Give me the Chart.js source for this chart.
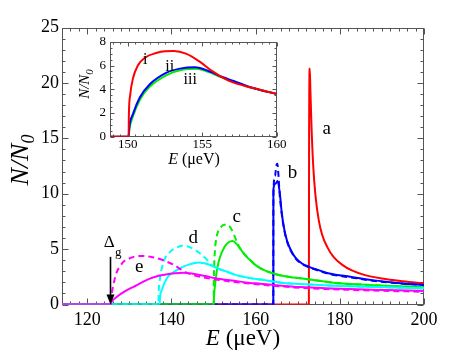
<!DOCTYPE html>
<html>
<head>
<meta charset="utf-8">
<script src="https://cdn.jsdelivr.net/npm/chart.js@4.4.1/dist/chart.umd.min.js"></script>
<style>
html,body{margin:0;padding:0;background:#ffffff;overflow:hidden;}
#wrap{position:relative;width:469px;height:352px;background:#fff;}
canvas{position:absolute;display:block;}
</style>
</head>
<body>
<div id="wrap">
<canvas id="main" width="469" height="352" style="left:0;top:0;"></canvas>
<canvas id="inset" width="240" height="140" style="left:70px;top:30px;"></canvas>
</div>
<script>
// ---------------- data ----------------
const xTickLabels = [120, 140, 160, 180, 200];
const yTickLabels = [0, 5, 10, 15, 20, 25];
const insetXTickLabels = [150, 155, 160];
const insetYTickLabels = [0, 2, 4, 6, 8];

// curve a (red, solid)
const aE = [114, 172.65, 172.7, 172.85, 173.0, 173.3, 173.7, 174.2, 175.0, 175.8, 177.0, 178.5, 180.5, 183, 186, 190, 195, 200];
const aN = [0, 0, 15, 21.3, 19.5, 15.8, 12.4, 9.9, 7.6, 6.3, 5.2, 4.3, 3.6, 3.05, 2.65, 2.35, 2.1, 1.9];

// curve b (blue)
const bE = [114, 164.2, 164.22, 164.7, 165.2, 165.7, 166.2, 166.8, 167.5, 168.5, 169.5, 171, 172.7, 175, 177.5, 182.5, 187.7, 193, 200];
const bN = [0, 0, 10.4, 10.9, 11.15, 10.2, 8.3, 6.8, 5.7, 4.8, 4.2, 3.7, 3.4, 3.1, 2.8, 2.5, 2.2, 1.97, 1.76];
const bDashE = [114, 164.2, 164.22, 164.6, 164.95, 165.15, 165.4, 165.7, 166.2, 166.8, 167.5, 168.5, 169.5, 171, 172.7, 175, 177.5, 182.5, 187.7, 193, 200];
const bDashN = [0, 0, 9.8, 11.6, 12.6, 12.7, 11.8, 10.0, 8.2, 6.7, 5.65, 4.75, 4.15, 3.65, 3.35, 3.05, 2.75, 2.45, 2.15, 1.95, 1.74];

// curve c (green)
const cE = [114, 150.05, 150.1, 150.34, 150.8, 151.46, 152.6, 153.5, 154.5, 155.5, 156.5, 157.9, 159, 160, 162, 164.2, 167, 170.6, 175, 178.5, 185, 190.4, 200];
const cN = [0, 0, 0.6, 1.7, 3.1, 4.2, 5.2, 5.6, 5.72, 5.45, 4.95, 4.3, 3.9, 3.55, 3.1, 2.8, 2.55, 2.36, 2.15, 1.97, 1.8, 1.7, 1.55];
const cDashE = [114, 150.05, 150.07, 150.16, 150.34, 150.67, 151.2, 151.9, 152.5, 153.1, 153.9, 154.8, 155.7, 156.5, 157.9, 159, 160, 162, 164.2, 167, 170.6, 175, 178.5, 185, 190.4, 200];
const cDashN = [0, 0, 1.9, 3.55, 4.9, 6.0, 6.7, 7.05, 7.2, 7.2, 7.0, 6.35, 5.5, 4.95, 4.3, 3.9, 3.55, 3.1, 2.8, 2.55, 2.36, 2.15, 1.97, 1.8, 1.7, 1.55];

// curve d (cyan)
const dE = [114, 137.2, 137.3, 137.7, 138.9, 140, 141.3, 142.7, 144.1, 145.3, 146.4, 147.8, 149.2, 151, 153.2, 155, 157.1, 158.7, 161.1, 166.6, 172, 178.5, 189, 200];
const dN = [0, 0, 0.7, 1.3, 2.36, 2.8, 3.1, 3.4, 3.6, 3.72, 3.8, 3.72, 3.56, 3.25, 2.96, 2.7, 2.5, 2.38, 2.25, 1.95, 1.82, 1.7, 1.57, 1.46];
const dDashE = [114, 136.9, 136.95, 137.3, 137.8, 138.5, 139.3, 140.1, 141.3, 142.5, 143.5, 144.5, 145.7, 146.8, 148.4, 149.4, 151, 153.2, 155, 157.1, 158.7, 161.1, 166.6, 172, 178.5, 189, 200];
const dDashN = [0, 0, 0.86, 2.4, 3.4, 4.2, 4.6, 4.9, 5.15, 5.3, 5.27, 5.15, 4.9, 4.6, 4.05, 3.62, 3.25, 2.96, 2.7, 2.5, 2.38, 2.25, 1.95, 1.82, 1.7, 1.57, 1.46];

// curve e (magenta)
const eE = [114, 125.5, 125.8, 127.05, 129, 131.0, 133, 135.0, 137, 138.9, 140.9, 142.9, 144.8, 146.8, 149.2, 151.6, 154.3, 158.7, 161.1, 165.5, 170.6, 178, 188, 200];
const eN = [0, 0, 0.25, 0.7, 1.2, 1.6, 2.0, 2.36, 2.6, 2.72, 2.83, 2.87, 2.8, 2.66, 2.47, 2.3, 2.17, 1.95, 1.88, 1.72, 1.57, 1.45, 1.33, 1.22];
const eDashE = [114, 125.5, 125.7, 125.9, 126.4, 127.05, 127.8, 128.6, 129.7, 131.0, 132.2, 133.4, 135.0, 136.6, 138.9, 140.5, 142.1, 143.6, 145.2, 147.2, 149.2, 151.6, 154.7, 158.7, 161.1, 165.5, 170.6, 178, 188, 200];
const eDashN = [0, 0, 0.6, 1.16, 2.1, 2.96, 3.45, 3.86, 4.1, 4.3, 4.37, 4.38, 4.3, 4.17, 3.86, 3.6, 3.2, 2.88, 2.65, 2.47, 2.33, 2.2, 2.04, 1.88, 1.8, 1.65, 1.5, 1.38, 1.26, 1.15];

// inset curves i (red), ii (blue), iii (green)
const insetIE = [148.8, 150.05, 150.07, 150.16, 150.34, 150.67, 151.2, 151.9, 152.5, 153.1, 153.9, 154.8, 155.7, 156.8, 158.4, 160];
const insetIN = [0, 0, 1.9, 3.55, 4.9, 6.0, 6.7, 7.05, 7.2, 7.22, 7.0, 6.35, 5.5, 4.7, 4.1, 3.6];
const insetIIE = [148.8, 150.05, 150.1, 150.34, 150.8, 151.46, 152.6, 153.5, 154.5, 155.5, 156.3, 157.1, 158.4, 160];
const insetIIN = [0, 0, 0.83, 1.9, 3.3, 4.4, 5.4, 5.74, 5.85, 5.5, 5.05, 4.7, 4.1, 3.6];
const insetIIIE = [148.8, 150.05, 150.1, 150.34, 150.8, 151.46, 152.6, 153.5, 154.6, 155.5, 156.3, 157.1, 158.4, 160];
const insetIIIN = [0, 0, 0.6, 1.7, 3.1, 4.2, 5.2, 5.6, 5.72, 5.42, 5.0, 4.68, 4.1, 3.6];

// ---------------- annotations (positions in data units) ----------------
const curveLabels = [
  {t: 'a', e: 176.9, n: 15.39},
  {t: 'b', e: 168.76, n: 11.39},
  {t: 'c', e: 155.5, n: 7.47},
  {t: 'd', e: 145.2, n: 5.52},
  {t: 'e', e: 132.34, n: 2.91}
];
const gapLabel = {e: 125.21, n: 5.16, subE: 127.38, subN: 4.38};
const gapArrow = {e: 125.46, top: 4.3};
const insetLabels = [
  {t: 'i', e: 151.16, n: 6.16},
  {t: 'ii', e: 152.81, n: 5.54},
  {t: 'iii', e: 154.19, n: 4.44}
];

// ---------------- helpers ----------------
const SERIF = '"Liberation Serif", serif';
Chart.defaults.font.family = SERIF;
Chart.defaults.color = '#000';

function series(xs, ys) { return xs.map((e, i) => ({x: e, y: ys[i]})); }
function line(xs, ys, color, dashed) {
  return {
    data: series(xs, ys), borderColor: color, borderWidth: 2,
    borderDash: dashed ? [6, 4] : [], pointRadius: 0, pointHoverRadius: 0,
    fill: false, cubicInterpolationMode: 'monotone', borderJoinStyle: 'round'
  };
}
function near(list, v) { return list.some(t => Math.abs(t - v) < 1e-6); }

function framePlugin(id, o) {
  return {
    id,
    beforeDatasetsDraw(chart) {
      const {ctx, chartArea: a, scales: {x, y}} = chart;
      const L = Math.round(a.left) + 0.5, R = Math.round(a.right) - 0.5;
      const T = Math.round(a.top) + 0.5, B = Math.round(a.bottom) - 0.5;
      ctx.save();
      ctx.strokeStyle = o.color; ctx.lineWidth = 1;
      ctx.strokeRect(L, T, R - L, B - T);
      ctx.beginPath();
      for (let k = Math.ceil(x.min / o.xStep - 1e-9); k * o.xStep <= x.max + 1e-9; k++) {
        const v = k * o.xStep, len = near(o.xMajor, v) ? o.major : o.minor;
        const p = Math.round(x.getPixelForValue(v)) + 0.5;
        ctx.moveTo(p, B); ctx.lineTo(p, B - len);
        ctx.moveTo(p, T); ctx.lineTo(p, T + len);
      }
      for (let k = Math.ceil(y.min / o.yStep - 1e-9); k * o.yStep <= y.max + 1e-9; k++) {
        const v = k * o.yStep, len = near(o.yMajor, v) ? o.major : o.minor;
        const p = Math.round(y.getPixelForValue(v)) + 0.5;
        ctx.moveTo(L, p); ctx.lineTo(L + len, p);
        ctx.moveTo(R, p); ctx.lineTo(R - len, p);
      }
      ctx.stroke();
      ctx.restore();
    }
  };
}

function drawRuns(ctx, runs, cx, by) {
  let total = 0;
  runs.forEach(r => { ctx.font = r.font; r.w = ctx.measureText(r.t).width; total += r.w; });
  let xx = cx - total / 2;
  ctx.textAlign = 'left'; ctx.textBaseline = 'alphabetic';
  runs.forEach(r => { ctx.font = r.font; ctx.fillText(r.t, xx, by + (r.dy || 0)); xx += r.w; });
}

const mainDecor = {
  id: 'mainDecor',
  afterDraw(chart) {
    const {ctx, scales: {x, y}} = chart;
    ctx.save();
    ctx.fillStyle = '#000';
    ctx.textAlign = 'center'; ctx.textBaseline = 'alphabetic';
    ctx.font = '19px ' + SERIF;
    curveLabels.forEach(l => ctx.fillText(l.t, x.getPixelForValue(l.e), y.getPixelForValue(l.n)));
    ctx.font = '17px ' + SERIF;
    ctx.fillText('\u0394', x.getPixelForValue(gapLabel.e), y.getPixelForValue(gapLabel.n));
    ctx.font = '13px ' + SERIF;
    ctx.fillText('g', x.getPixelForValue(gapLabel.subE), y.getPixelForValue(gapLabel.subN));
    // arrow
    const ax = Math.round(x.getPixelForValue(gapArrow.e)) + 0.5;
    const y0 = y.getPixelForValue(gapArrow.top), y1 = y.getPixelForValue(0);
    ctx.strokeStyle = '#000'; ctx.lineWidth = 1.6;
    ctx.beginPath(); ctx.moveTo(ax, y0); ctx.lineTo(ax, y1 - 8); ctx.stroke();
    ctx.beginPath(); ctx.moveTo(ax - 4, y1 - 10); ctx.lineTo(ax + 4, y1 - 10); ctx.lineTo(ax, y1); ctx.closePath(); ctx.fill();
    // axis titles
    drawRuns(ctx, [
      {t: 'E', font: 'italic 23px ' + SERIF},
      {t: ' (\u03bceV)', font: '23px ' + SERIF}
    ], 243, 345);
    ctx.translate(27.5, 160);
    ctx.rotate(-Math.PI / 2);
    drawRuns(ctx, [
      {t: 'N/N', font: 'italic 26px ' + SERIF},
      {t: '0', font: 'italic 18px ' + SERIF, dy: 6}
    ], 0, 0);
    ctx.restore();
  }
};

const insetDecor = {
  id: 'insetDecor',
  afterDraw(chart) {
    const {ctx, scales: {x, y}} = chart;
    ctx.save();
    ctx.fillStyle = '#000';
    ctx.textAlign = 'center'; ctx.textBaseline = 'alphabetic';
    ctx.font = '16px ' + SERIF;
    insetLabels.forEach(l => ctx.fillText(l.t, x.getPixelForValue(l.e), y.getPixelForValue(l.n)));
    drawRuns(ctx, [
      {t: 'E', font: 'italic 16px ' + SERIF},
      {t: ' (\u03bceV)', font: '16px ' + SERIF}
    ], 124, 134);
    ctx.translate(19, 54);
    ctx.rotate(-Math.PI / 2);
    drawRuns(ctx, [
      {t: 'N/N', font: 'italic 15px ' + SERIF},
      {t: '0', font: 'italic 11px ' + SERIF, dy: 4}
    ], 0, 0);
    ctx.restore();
  }
};

function tickFont(size) { return {family: SERIF, size: size}; }

// ---------------- main chart ----------------
new Chart(document.getElementById('main'), {
  type: 'line',
  data: {
    datasets: [
      line(eDashE, eDashN, '#ff00ff', true),
      line(eE, eN, '#ff00ff', false),
      line(dDashE, dDashN, '#00ffff', true),
      line(dE, dN, '#00ffff', false),
      line(cDashE, cDashN, '#00ee00', true),
      line(cE, cN, '#00ee00', false),
      line(bDashE, bDashN, '#0000ff', true),
      line(bE, bN, '#0000ff', false),
      line(aE, aN, '#ff0000', false)
    ]
  },
  options: {
    responsive: false, animation: false, devicePixelRatio: 1,
    layout: {padding: {left: 0, right: 45, top: 27.5, bottom: 0}},
    plugins: {legend: {display: false}, tooltip: {enabled: false}},
    scales: {
      x: {
        type: 'linear', min: 114, max: 200,
        grid: {display: false, drawTicks: false}, border: {display: false},
        afterBuildTicks: s => { s.ticks = xTickLabels.map(v => ({value: v})); },
        afterFit: s => { s.height = 47.5; },
        ticks: {autoSkip: false, maxRotation: 0, padding: 5, color: '#000', font: tickFont(18), callback: v => String(v)}
      },
      y: {
        type: 'linear', min: 0, max: 25,
        grid: {display: false, drawTicks: false}, border: {display: false},
        afterBuildTicks: s => { s.ticks = yTickLabels.map(v => ({value: v})); },
        afterFit: s => { s.width = 62; },
        ticks: {autoSkip: false, padding: 3, color: '#000', font: tickFont(18), callback: v => String(v)}
      }
    }
  },
  plugins: [framePlugin('mainFrame', {color: '#555', xStep: 2, yStep: 1, xMajor: xTickLabels, yMajor: yTickLabels, major: 6, minor: 3}), mainDecor]
});

// ---------------- inset chart ----------------
new Chart(document.getElementById('inset'), {
  type: 'line',
  data: {
    datasets: [
      line(insetIE, insetIN, '#ff0000', false),
      line(insetIIE, insetIIN, '#0000ff', false),
      line(insetIIIE, insetIIIN, '#00ee00', false)
    ]
  },
  options: {
    responsive: false, animation: false, devicePixelRatio: 1,
    layout: {padding: {left: 0, right: 33.3, top: 9.3, bottom: 0}},
    plugins: {legend: {display: false}, tooltip: {enabled: false}},
    scales: {
      x: {
        type: 'linear', min: 148.8, max: 160,
        grid: {display: false, drawTicks: false}, border: {display: false},
        afterBuildTicks: s => { s.ticks = insetXTickLabels.map(v => ({value: v})); },
        afterFit: s => { s.height = 33.3; },
        ticks: {autoSkip: false, maxRotation: 0, padding: 0, color: '#000', font: tickFont(13), callback: v => String(v)}
      },
      y: {
        type: 'linear', min: 0, max: 8,
        grid: {display: false, drawTicks: false}, border: {display: false},
        afterBuildTicks: s => { s.ticks = insetYTickLabels.map(v => ({value: v})); },
        afterFit: s => { s.width = 40; },
        ticks: {autoSkip: false, padding: 4, color: '#000', font: tickFont(13), callback: v => String(v)}
      }
    }
  },
  plugins: [framePlugin('insetFrame', {color: '#555', xStep: 0.5, yStep: 0.5, xMajor: insetXTickLabels, yMajor: insetYTickLabels, major: 4, minor: 2}), insetDecor]
});
</script>
</body>
</html>
